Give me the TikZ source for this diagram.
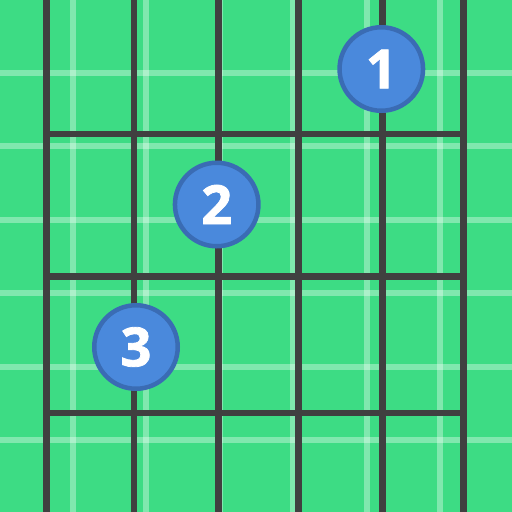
\documentclass[tikz,border=0pt]{standalone}
\usepackage{fontspec}
\newfontfamily\digitfont{Open Sans}[BoldFeatures={FakeBold=1.5}]
\definecolor{bg}{HTML}{3DDC84}
\definecolor{wire}{HTML}{404040}
\definecolor{dotfill}{HTML}{4A89DC}
\definecolor{dotline}{HTML}{3A6CB4}
\begin{document}
\begin{tikzpicture}[x=1pt,y=-1pt,
  plaid/.style={white, opacity=0.35, line width=6pt},
  stringline/.style={wire, line width=6.7pt},
  fretline/.style={wire, line width=6.7pt},
  finger/.style={circle, fill=dotfill, draw=dotline, line width=4.5pt,
    minimum size=83.5pt, inner sep=0pt, text=white,
    font=\digitfont\bfseries\fontsize{54}{54}\selectfont}]
\fill[bg] (0,0) rectangle (512,512);
\useasboundingbox (0,0) rectangle (512,512);
\foreach \p in {72.5,146,219.5,293,366.5,440} {
  \draw[plaid] (\p,0) -- (\p,512);
  \draw[plaid] (0,\p) -- (512,\p);
}
\foreach \i/\x in {1/46.7,2/134,3/218.3,4/298.7,5/382.3,6/463.3} {
  \coordinate (st\i) at (\x,0);
  \coordinate (sb\i) at (\x,512);
  \draw[stringline] (st\i) -- (sb\i);
}
\foreach \j/\y in {1/134,2/276.5,3/413} {
  \coordinate (fl\j) at (46.7,\y);
  \coordinate (fr\j) at (463.3,\y);
  \draw[fretline] (fl\j) -- (fr\j);
}
\node[finger] (n1) at (381.3,69) {1};
\node[finger] (n2) at (216.7,204.5) {2};
\node[finger] (n3) at (136,347) {3};
\end{tikzpicture}
\end{document}
